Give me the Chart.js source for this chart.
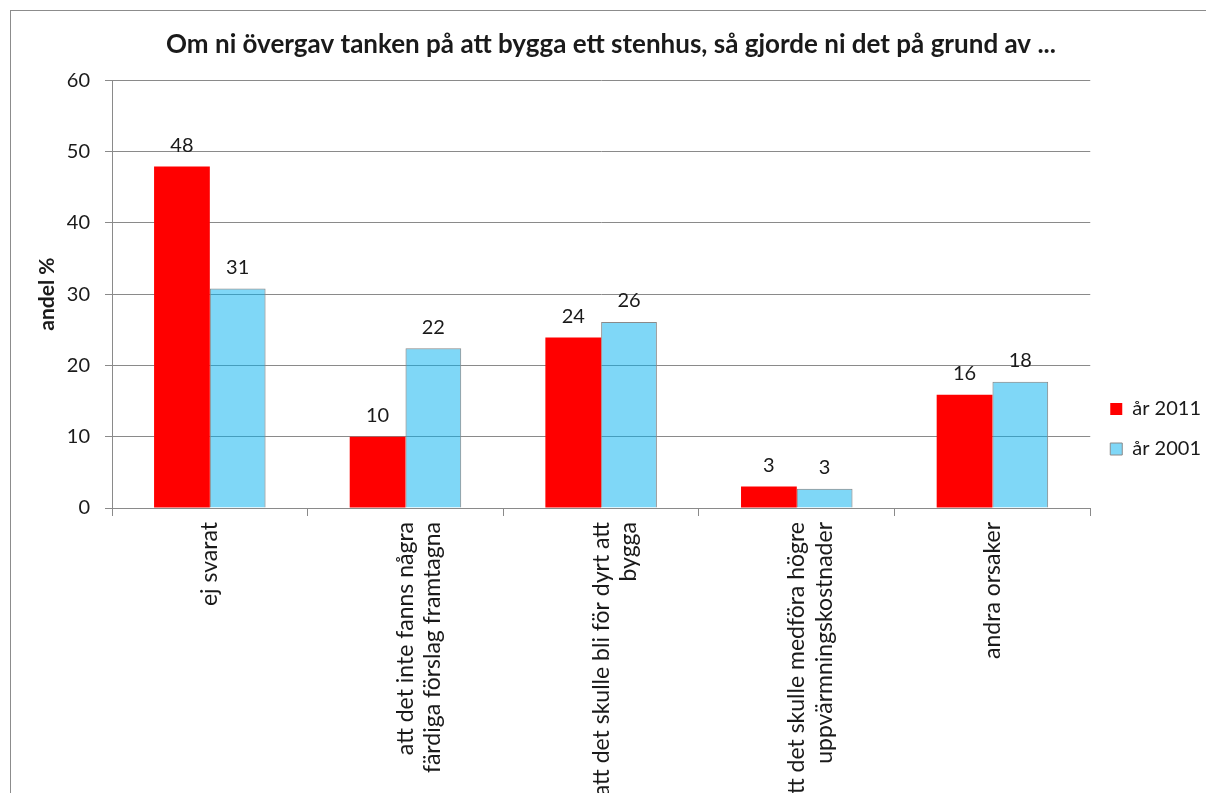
<!DOCTYPE html>
<html>
<head>
<meta charset="utf-8">
<script src="https://cdn.jsdelivr.net/npm/chart.js@4"></script>
<style>
  body { margin: 0; background: #fff; overflow: hidden; }
  #frame { position: absolute; left: 10px; top: 10px; width: 1200px; height: 836px; border: 1px solid #8c8c8c; }
</style>
</head>
<body>
<div id="frame"><canvas id="chart"></canvas></div>
<script>
// Categories (multi-line labels as in the original)
const categories = [
    'ej svarat',
    ['att det inte fanns några', 'färdiga förslag framtagna'],
    ['att det skulle bli för dyrt att', 'bygga'],
    ['att det skulle medföra högre', 'uppvärmningskostnader'],
    'andra orsaker'
];

// Series values (andel %)
const values2011 = [47.9, 10.0, 23.9, 3.0, 15.9];
const values2001 = [30.8, 22.4, 26.1, 2.7, 17.7];

const yTicks = [0, 10, 20, 30, 40, 50, 60];

const fontFamily = 'Lato, "Open Sans", sans-serif';
const textColor = '#1a1a1a';
const gridColor = '#8a8a8a';

// Draws the rounded value above each bar
const valueLabels = {
    id: 'valueLabels',
    afterDatasetsDraw(chart) {
        const ctx = chart.ctx;
        ctx.save();
        ctx.font = `20px ${fontFamily}`;
        ctx.fillStyle = textColor;
        ctx.textAlign = 'center';
        ctx.textBaseline = 'bottom';
        chart.data.datasets.forEach((ds, i) => {
            chart.getDatasetMeta(i).data.forEach((bar, j) => {
                ctx.fillText(Math.round(ds.data[j]), bar.x, bar.y - 11);
            });
        });
        ctx.restore();
    }
};

const ctx = document.getElementById('chart').getContext('2d');
const chart = new Chart(ctx, {
    type: 'bar',
    data: {
        labels: categories,
        datasets: [{
            label: 'år 2011',
            data: values2011,
            backgroundColor: '#ff0000',
            borderColor: '#ff0000',
            borderWidth: 0
        }, {
            label: 'år 2001',
            data: values2001,
            backgroundColor: 'rgba(0, 176, 240, 0.5)',
            borderColor: '#8a8a8a',
            borderWidth: 1
        }]
    },
    options: {
        responsive: true,
        maintainAspectRatio: false,
        animation: false,
        categoryPercentage: 0.57,
        barPercentage: 1,
        layout: { padding: 0 },
        scales: {
            x: {
                grid: { drawOnChartArea: false, drawTicks: true, tickLength: 8, color: gridColor, offset: true },
                border: { color: gridColor },
                ticks: {
                    color: textColor,
                    font: { family: fontFamily, size: 23 },
                    minRotation: 90,
                    maxRotation: 90,
                    autoSkip: false,
                    padding: 6
                },
                afterFit(scale) { scale.height = 339; }
            },
            y: {
                min: 0,
                max: 60,
                afterBuildTicks(scale) { scale.ticks = yTicks.map(v => ({ value: v })); },
                grid: { color: gridColor, tickLength: 7 },
                border: { color: gridColor },
                ticks: {
                    color: textColor,
                    font: { family: fontFamily, size: 20 },
                    padding: 15
                },
                title: {
                    display: true,
                    text: 'andel %',
                    color: textColor,
                    font: { family: fontFamily, size: 21, weight: 'bold' },
                    padding: { top: 24, bottom: 6 }
                },
                afterFit(scale) { scale.width = 101; }
            }
        },
        plugins: {
            title: {
                display: true,
                text: 'Om ni övergav tanken på att bygga ett stenhus, så gjorde ni det på grund av ...',
                color: textColor,
                font: { family: fontFamily, size: 26, weight: 'bold' },
                padding: { top: 18, bottom: 20 }
            },
            legend: {
                position: 'right',
                labels: {
                    color: textColor,
                    font: { family: fontFamily, size: 20 },
                    boxWidth: 12,
                    boxHeight: 12,
                    padding: 20
                }
            },
            tooltip: { enabled: false }
        }
    },
    plugins: [valueLabels]
});
</script>
</body>
</html>
